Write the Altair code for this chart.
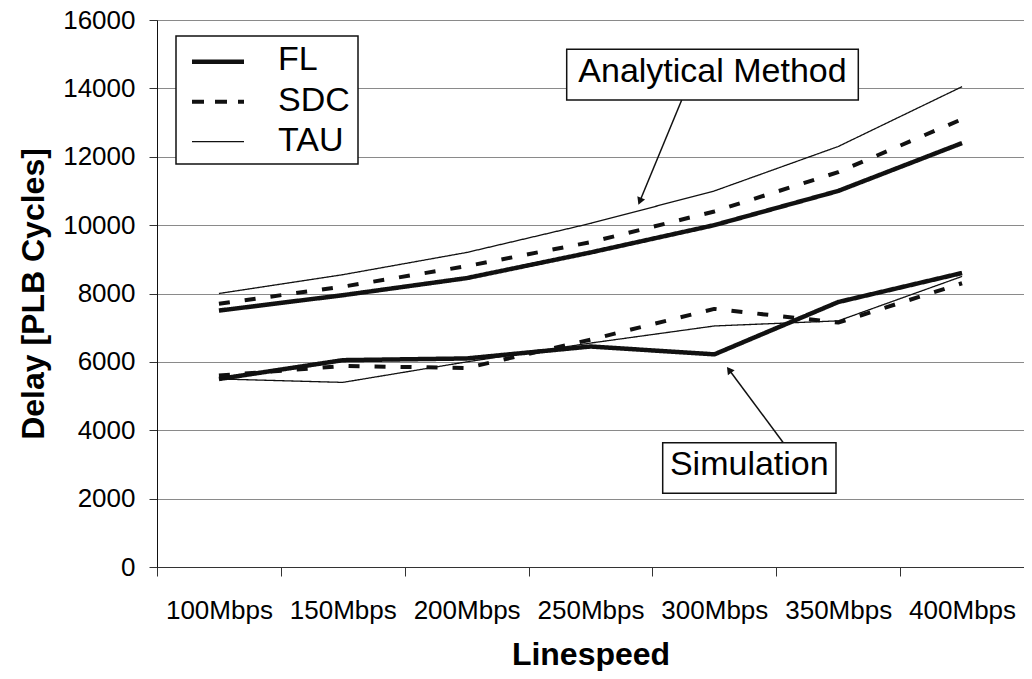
import altair as alt
import pandas as pd

categories = ["100Mbps", "150Mbps", "200Mbps", "250Mbps", "300Mbps", "350Mbps", "400Mbps"]
series_names = ["FL", "SDC", "TAU"]

analytical_fl = [7500, 7950, 8450, 9200, 10000, 11000, 12400]
analytical_sdc = [7700, 8200, 8800, 9500, 10400, 11550, 13100]
analytical_tau = [8000, 8550, 9200, 10050, 11000, 12300, 14050]

simulation_fl = [5500, 6050, 6100, 6450, 6220, 7750, 8600]
simulation_sdc = [5600, 5880, 5820, 6650, 7550, 7150, 8300]
simulation_tau = [5500, 5400, 6000, 6550, 7050, 7200, 8500]

y_ticks = [0, 2000, 4000, 6000, 8000, 10000, 12000, 14000, 16000]

FONT = "Liberation Sans"
INK = "#111111"

rows = []
for method, arrays in (("Analytical", (analytical_fl, analytical_sdc, analytical_tau)),
                       ("Simulation", (simulation_fl, simulation_sdc, simulation_tau))):
    for name, vals in zip(series_names, arrays):
        for c, v in zip(categories, vals):
            rows.append({"method": method, "series": name, "speed": c, "delay": v})
df = pd.DataFrame(rows)

line_styles = {"FL": ([1, 0], 4.5), "SDC": ([11, 15], 4), "TAU": ([1, 0], 1.3)}

x_enc = alt.X("speed:N", sort=categories, bandPosition=0.5,
              scale=alt.Scale(type="band", domain=categories, paddingInner=0, paddingOuter=0),
              axis=alt.Axis(tickBand="extent", grid=False, tickSize=9, tickColor="#333333",
                            domainColor="#333333", labelAngle=0, labelFontSize=26,
                            labelFont=FONT, labelColor="#000000", labelBaseline="alphabetic",
                            labelPadding=42, title="Linespeed", titleFont=FONT,
                            titleFontSize=32, titleFontWeight="bold", titleColor="#000000",
                            titleY=97, titleBaseline="alphabetic"))
y_enc = alt.Y("delay:Q",
              scale=alt.Scale(domain=[0, 16000], nice=False, zero=True),
              axis=alt.Axis(values=y_ticks, format="d", grid=True, gridColor="#8a8a8a",
                            gridWidth=1, domainColor="#111111", tickColor="#333333",
                            tickSize=8, labelFontSize=26, labelFont=FONT,
                            labelColor="#000000", labelPadding=14,
                            title="Delay [PLB Cycles]", titleFont=FONT, titleFontSize=32,
                            titleFontWeight="bold", titleColor="#000000", titleAngle=270,
                            titleX=-114, titleY=273.5, titleBaseline="alphabetic",
                            titleAlign="center"))

line_layers = []
for name in series_names:
    d, w = line_styles[name]
    line_layers.append(
        alt.Chart(df).transform_filter(alt.datum.series == name)
        .mark_line(color=INK, strokeWidth=w, strokeDash=d, strokeCap="butt", strokeJoin="round")
        .encode(x=x_enc, y=y_enc, detail="method:N")
    )

one = pd.DataFrame({"k": [0]})
DX = 3  # plot origin is at page x=157


def box(x0, y0, x1, y1, sw=1.5):
    return alt.Chart(one).mark_rect(fill="white", stroke="#111111", strokeWidth=sw).encode(
        x=alt.value(x0 + DX), x2=alt.value(x1 + DX), y=alt.value(y0), y2=alt.value(y1))


def rule(x0, y0, x1, y1, sw=1.5, dash=None):
    kw = dict(color=INK, strokeWidth=sw, strokeCap="butt")
    if dash:
        kw["strokeDash"] = dash
    return alt.Chart(one).mark_rule(**kw).encode(
        x=alt.value(x0 + DX), x2=alt.value(x1 + DX), y=alt.value(y0), y2=alt.value(y1))


def label(txt, x, y, size=34, align="left"):
    return alt.Chart(one).mark_text(text=txt, font=FONT, fontSize=size, color="#000000",
                                    align=align, baseline="alphabetic").encode(
        x=alt.value(x + DX), y=alt.value(y))


def head(x, y, ang):
    return alt.Chart(one).mark_point(shape="triangle-up", filled=True, color=INK, size=70,
                                     opacity=1, angle=ang).encode(x=alt.value(x + DX), y=alt.value(y))


# legend
legend_layers = [box(16, 16, 198, 144)]
legend_styles = {"FL": ([1, 0], 4.5), "SDC": ([12, 11], 4), "TAU": ([1, 0], 1.3)}
for i, name in enumerate(series_names):
    d, w = legend_styles[name]
    yl = 41.7 + 40 * i
    legend_layers.append(rule(32, yl, 84, yl, sw=w, dash=d))
    legend_layers.append(label(name, 118, 50 + 40.5 * i, size=34))

# annotations
annot_layers = [
    rule(521.7, 80, 479.5, 182, sw=1.5),
    head(479.8, 181.3, 202.5),
    box(406.7, 29.3, 698.3, 80),
    label("Analytical Method", 552.5, 62, size=34, align="center"),
    rule(623.3, 422.7, 568.5, 349, sw=1.5),
    head(569.1, 349.9, 323.3),
    box(502.7, 422.7, 676, 473.3),
    label("Simulation", 589.3, 455, size=34, align="center"),
]

chart = alt.layer(*line_layers, *legend_layers, *annot_layers).properties(
    width=867, height=547,
    autosize=alt.AutoSizeParams(type="none"),
    padding={"left": 149, "top": 12, "right": 0, "bottom": 104},
).configure_view(stroke="#8a8a8a", strokeWidth=1, strokeDash=[3, 2])

chart.save("out.html", embed_options={"renderer": "svg", "actions": False})
